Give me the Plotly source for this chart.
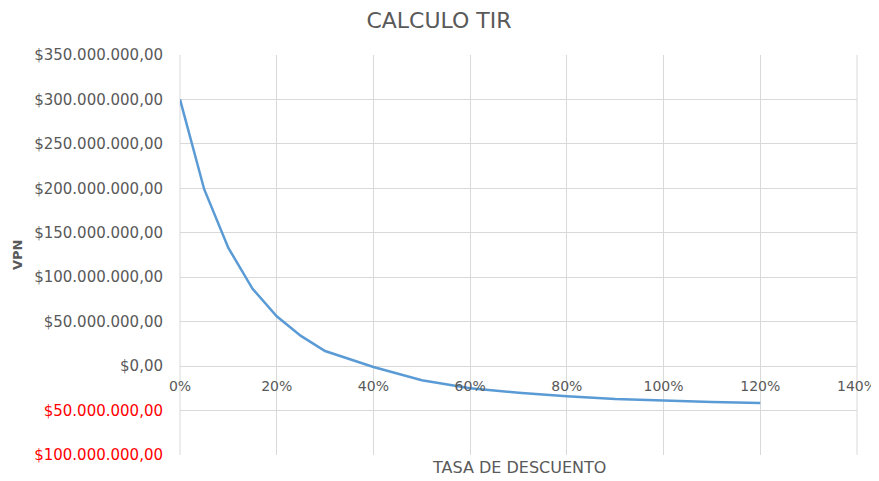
import plotly.graph_objects as go

tasa = [0.0, 0.05, 0.10, 0.15, 0.20, 0.25, 0.30, 0.40, 0.50, 0.60, 0.70, 0.80, 0.90, 1.00, 1.10, 1.20]
vpn = [300e6, 199e6, 133e6, 87e6, 56e6, 34e6, 17e6, -1e6, -16e6, -25e6, -30e6, -34e6, -37e6, -39e6, -40.5e6, -41.5e6]

y_ticks = [-100e6, -50e6, 0, 50e6, 100e6, 150e6, 200e6, 250e6, 300e6, 350e6]
y_labels = ["$100.000.000,00", "$50.000.000,00", "$0,00", "$50.000.000,00", "$100.000.000,00",
            "$150.000.000,00", "$200.000.000,00", "$250.000.000,00", "$300.000.000,00", "$350.000.000,00"]
x_ticks = [0, 0.2, 0.4, 0.6, 0.8, 1.0, 1.2, 1.4]
x_labels = ["0%", "20%", "40%", "60%", "80%", "100%", "120%", "140%"]

gray = "#595959"
grid = "#d9d9d9"

ytext = [f"<span style='color:#ff0000'>{t}</span>" if v < 0 else t for v, t in zip(y_ticks, y_labels)]

fig = go.Figure()
fig.add_trace(go.Scatter(x=tasa, y=vpn, mode="lines",
                         line=dict(color="#5b9bd5", width=2.5), showlegend=False))

ymin, ymax = -100e6, 350e6
zero_pos = (0 - ymin) / (ymax - ymin)

fig.update_layout(
    width=871, height=473,
    margin=dict(l=172, r=22, t=47, b=26, autoexpand=False),
    paper_bgcolor="white", plot_bgcolor="white",
    font=dict(family="DejaVu Sans, sans-serif", color=gray, size=13),
    title=dict(text="CALCULO TIR", x=(439 - 8) / 871, xanchor="center", y=0.975, yanchor="middle",
               font=dict(size=22, color=gray)),
    xaxis=dict(range=[0, 1.4], tickvals=x_ticks, ticktext=x_labels, automargin=False,
               showgrid=True, gridcolor=grid, gridwidth=1, zeroline=False,
               showline=False, ticks="", anchor="free", position=zero_pos,
               ticklabelstandoff=10,
               tickfont=dict(size=14, color=gray)),
    yaxis=dict(range=[ymin, ymax], tickvals=y_ticks, ticktext=ytext, automargin=False,
               showgrid=True, gridcolor=grid, gridwidth=1, zeroline=True,
               zerolinecolor=grid, zerolinewidth=1, showline=False, ticks="",
               ticklabelstandoff=16, tickfont=dict(size=15, color=gray)),
    annotations=[
        dict(text="TASA DE DESCUENTO", xref="paper", yref="paper", x=0.5, y=-0.03,
             xanchor="center", yanchor="middle", showarrow=False,
             font=dict(size=16, color=gray)),
        dict(text="<b>VPN</b>", xref="paper", yref="paper", x=(9 - 172) / 677, y=(447 - 247) / 400,
             xanchor="center", yanchor="middle", textangle=-90, showarrow=False,
             font=dict(size=13, color=gray)),
    ],
)
fig.add_shape(type="line", xref="paper", yref="paper", x0=0, x1=0, y0=0, y1=1,
              line=dict(color=grid, width=1), layer="below")
fig.add_shape(type="line", xref="paper", yref="paper", x0=1, x1=1, y0=0, y1=1,
              line=dict(color=grid, width=1), layer="below")

fig.write_html("out.html")
